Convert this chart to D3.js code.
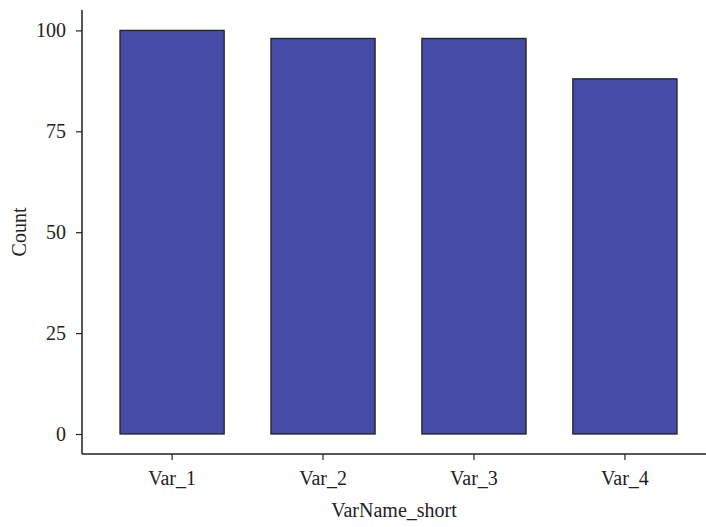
<!DOCTYPE html>
<html>
<head>
<meta charset="utf-8">
<script src="https://cdn.jsdelivr.net/npm/d3@7"></script>
<style>
  body { margin: 0; background: #fff; }
  text { font-family: "Liberation Serif", "DejaVu Serif", serif; fill: #222; }
</style>
</head>
<body>
<svg width="706" height="527"></svg>
<script>
const categories = ["Var_1", "Var_2", "Var_3", "Var_4"];
const counts = [100, 98, 98, 88];
const yTicks = [0, 25, 50, 75, 100];

const svg = d3.select("svg");
const data = categories.map((c, i) => ({ name: c, count: counts[i] }));

const axisX = 82, axisY = 454;

const x = d3.scaleBand()
    .domain(categories)
    .range([96.6, 700.4])
    .paddingInner(0.31)
    .paddingOuter(0.155);

const y = d3.scaleLinear()
    .domain([0, 100])
    .range([434, 30.4]);

// bars
svg.selectAll("rect.bar")
    .data(data)
    .enter()
    .append("rect")
    .attr("class", "bar")
    .attr("x", d => x(d.name))
    .attr("y", d => y(d.count))
    .attr("width", x.bandwidth())
    .attr("height", d => y(0) - y(d.count))
    .attr("fill", "#454ca8")
    .attr("stroke", "#222")
    .attr("stroke-width", 1.3);

// y axis
const yAxis = svg.append("g")
    .attr("transform", `translate(${axisX},0)`)
    .call(d3.axisLeft(y).tickValues(yTicks).tickSize(6).tickPadding(10));
yAxis.select(".domain").remove();
yAxis.selectAll(".tick line").attr("stroke", "#222").attr("stroke-width", 1.2);
yAxis.selectAll(".tick text").attr("font-size", 20).attr("fill", "#222")
    .style("font-family", "'Liberation Serif', serif");
svg.append("line")
    .attr("x1", axisX).attr("x2", axisX)
    .attr("y1", 10).attr("y2", axisY)
    .attr("stroke", "#222").attr("stroke-width", 1.5);

// x axis
const xAxis = svg.append("g")
    .attr("transform", `translate(0,${axisY})`)
    .call(d3.axisBottom(x).tickSize(6).tickPadding(11));
xAxis.select(".domain").remove();
xAxis.selectAll(".tick line").attr("stroke", "#222").attr("stroke-width", 1.2);
xAxis.selectAll(".tick text").attr("font-size", 20).attr("fill", "#222")
    .style("font-family", "'Liberation Serif', serif");
svg.append("line")
    .attr("x1", axisX).attr("x2", 706)
    .attr("y1", axisY).attr("y2", axisY)
    .attr("stroke", "#222").attr("stroke-width", 1.5);

// axis titles
svg.append("text")
    .attr("x", 394)
    .attr("y", 517)
    .attr("text-anchor", "middle")
    .attr("font-size", 20)
    .text("VarName_short");

svg.append("text")
    .attr("transform", "translate(26,232) rotate(-90)")
    .attr("text-anchor", "middle")
    .attr("font-size", 20)
    .text("Count");
</script>
</body>
</html>
